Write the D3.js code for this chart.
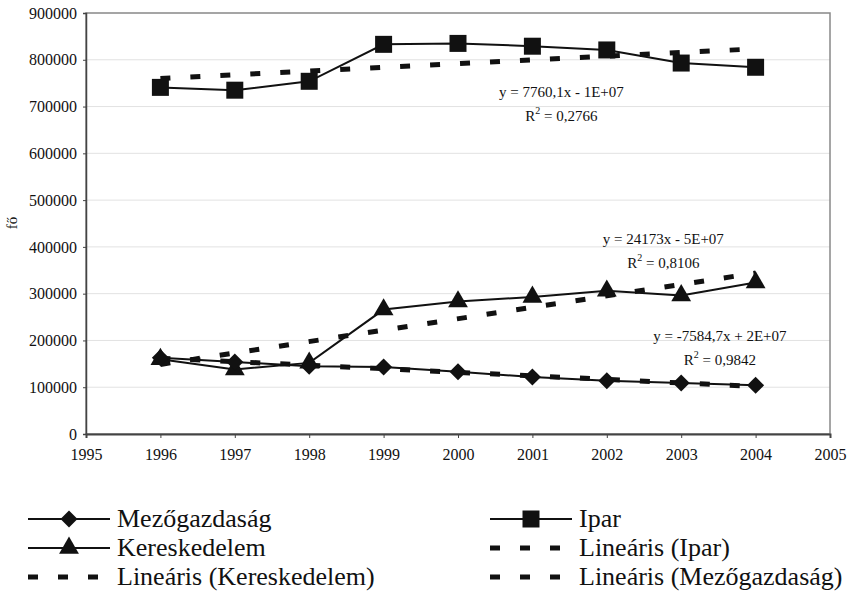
<!DOCTYPE html>
<html><head><meta charset="utf-8">
<script src="https://cdn.jsdelivr.net/npm/d3@7"></script>
<style>body{margin:0;background:#fff}svg{display:block}svg text{font-family:"Liberation Serif","Times New Roman",Times,"DejaVu Serif",serif !important;fill:#111}</style>
</head><body><svg id="c" width="850" height="593"></svg>
<script>
const years = [1996,1997,1998,1999,2000,2001,2002,2003,2004];
const mezogazdasag = [163000,154000,145000,143000,133000,122000,114000,109000,104000];
const ipar = [741000,735000,754000,833000,835000,829000,821000,793000,784000];
const kereskedelem = [160000,138000,152000,266000,283000,293000,306000,296000,324000];
const xTicks = [1995,1996,1997,1998,1999,2000,2001,2002,2003,2004,2005];
const yTicks = [0,100000,200000,300000,400000,500000,600000,700000,800000,900000];
const eqTexts = ["y = 7760,1x - 1E+07","y = 24173x - 5E+07","y = -7584,7x + 2E+07"];
const r2Texts = ["0,2766","0,8106","0,9842"];
// label anchor positions in data coordinates (year, value)
const eqAnchors = [[2001.39,720000],[2002.76,406000],[2003.52,199000]];

const FONT = '"Liberation Serif","Times New Roman",Times,"DejaVu Serif",serif';
const svg = d3.select("#c");
const L=86, R=830, T=13, B=434;
const x = d3.scaleLinear().domain([1995,2005]).range([L,R]);
const y = d3.scaleLinear().domain([0,900000]).range([B,T]);

svg.append("g").selectAll("line").data(yTicks.slice(1,-1)).join("line")
  .attr("x1",L).attr("x2",R).attr("y1",d=>y(d)).attr("y2",d=>y(d))
  .attr("stroke","#e2e2e2").attr("stroke-width",1);
svg.append("rect").attr("x",L).attr("y",T).attr("width",R-L).attr("height",B-T)
  .attr("fill","none").attr("stroke","#888").attr("stroke-width",1.5);

const ya = svg.append("g").attr("transform",`translate(${L},0)`)
  .call(d3.axisLeft(y).tickValues(yTicks).tickFormat(d3.format("d")).tickSize(3).tickPadding(6));
ya.attr("font-family",FONT);
ya.select(".domain").attr("stroke","#444").attr("stroke-width",1.5);
ya.selectAll("line").attr("stroke","#444");
ya.selectAll("text").attr("font-size",16).attr("fill","#222");
const xa = svg.append("g").attr("transform",`translate(0,${B})`)
  .call(d3.axisBottom(x).tickValues(xTicks).tickFormat(d3.format("d")).tickSize(4).tickPadding(11));
xa.attr("font-family",FONT);
xa.select(".domain").attr("stroke","#444").attr("stroke-width",2);
xa.selectAll("line").attr("stroke","#444");
xa.selectAll("text").attr("font-size",16).attr("fill","#222");

svg.append("text").attr("transform",`translate(17,223) rotate(-90)`)
  .attr("text-anchor","middle").attr("font-size",15).text("fő");

function fit(vals){
  const mx=d3.mean(years), my=d3.mean(vals);
  let sxy=0,sxx=0; years.forEach((v,i)=>{sxy+=(v-mx)*(vals[i]-my);sxx+=(v-mx)*(v-mx);});
  const b=sxy/sxx, a=my-b*mx; return t=>a+b*t;
}
const line = d3.line().x(d=>x(d[0])).y(d=>y(d[1]));
const series = [
  {vals:ipar, sym:d3.symbolSquare, size:289, rot:0},
  {vals:kereskedelem, sym:d3.symbolTriangle, size:170, rot:0},
  {vals:mezogazdasag, sym:d3.symbolSquare, size:145, rot:45}
];
series.forEach(s=>{
  const f=fit(s.vals);
  svg.append("path").attr("d",line([[1996,f(1996)],[2004,f(2004)]]))
    .attr("stroke","#111").attr("stroke-width",5).attr("stroke-dasharray","10,20").attr("fill","none");
});
series.forEach(s=>{
  const pts=years.map((t,i)=>[t,s.vals[i]]);
  svg.append("path").attr("d",line(pts)).attr("stroke","#111").attr("stroke-width",2).attr("fill","none");
  svg.append("g").selectAll("path").data(pts).join("path")
    .attr("d",d3.symbol(s.sym,s.size)).attr("transform",d=>`translate(${x(d[0])},${y(d[1])}) rotate(${s.rot})`).attr("fill","#111");
});

eqTexts.forEach((eq,i)=>{
  const px=x(eqAnchors[i][0]), py=y(eqAnchors[i][1]);
  svg.append("text").attr("x",px).attr("y",py).attr("text-anchor","middle").attr("font-size",15).text(eq);
  const t=svg.append("text").attr("x",px).attr("y",py+24).attr("text-anchor","middle").attr("font-size",15);
  t.append("tspan").text("R");
  t.append("tspan").attr("font-size",10).attr("dy",-7).text("2");
  t.append("tspan").attr("dy",7).text(" = "+r2Texts[i]);
});

const legend = [
  {label:"Mezőgazdaság", type:"m", sym:d3.symbolSquare, size:145, rot:45, col:0, row:0},
  {label:"Kereskedelem", type:"m", sym:d3.symbolTriangle, size:170, rot:0, col:0, row:1},
  {label:"Lineáris (Kereskedelem)", type:"d", col:0, row:2},
  {label:"Ipar", type:"m", sym:d3.symbolSquare, size:289, rot:0, col:1, row:0},
  {label:"Lineáris (Ipar)", type:"d", col:1, row:1},
  {label:"Lineáris (Mezőgazdaság)", type:"d", col:1, row:2}
];
const colX=[28,490], rowY=[519,548,577];
legend.forEach(l=>{
  const x0=colX[l.col], yy=rowY[l.row];
  const g=svg.append("g");
  if(l.type==="m"){
    g.append("line").attr("x1",x0).attr("x2",x0+82).attr("y1",yy).attr("y2",yy).attr("stroke","#111").attr("stroke-width",2);
    g.append("path").attr("d",d3.symbol(l.sym,l.size)).attr("transform",`translate(${x0+41},${yy}) rotate(${l.rot})`).attr("fill","#111");
  } else {
    g.append("line").attr("x1",x0).attr("x2",x0+70).attr("y1",yy).attr("y2",yy).attr("stroke","#111").attr("stroke-width",5).attr("stroke-dasharray","10,20");
  }
  g.append("text").attr("x",x0+89).attr("y",yy+8).attr("font-size",26).text(l.label);
});
</script></body></html>
